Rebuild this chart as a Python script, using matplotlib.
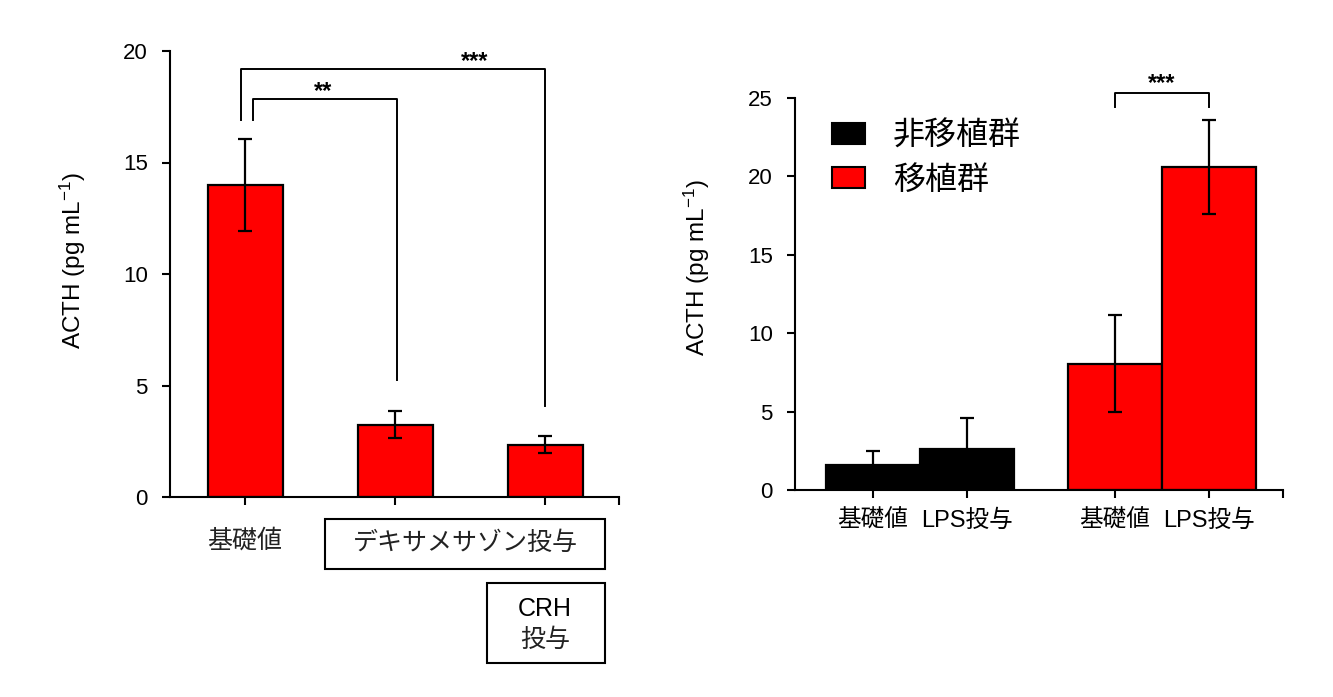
import numpy as np
import matplotlib
matplotlib.use('Agg')
import matplotlib.pyplot as plt
from matplotlib.patches import Rectangle, Patch

plt.rcParams['font.family'] = ['Liberation Sans', 'Noto Sans CJK JP']
plt.rcParams['mathtext.default'] = 'regular'

# left panel data
left_means = [14.0, 3.25, 2.35]
left_errs = [2.05, 0.62, 0.37]
left_first_label = '基礎値'
dex_label = 'デキサメサゾン投与'
crh_label = ['CRH', '投与']

# right panel data
groups = ['非移植群', '移植群']
group_colors = ['black', '#ff0000']
conditions = ['基礎値', 'LPS投与']
right_means = [[1.6, 2.6], [8.05, 20.6]]
right_errs = [[0.9, 2.0], [3.1, 3.0]]

ylabel = 'ACTH (pg mL$^{-1}$)'

W, H = 1333, 697
fig = plt.figure(figsize=(W / 100, H / 100), dpi=100)


def style_axis(ax):
    for s in ['top', 'right']:
        ax.spines[s].set_visible(False)
    for s in ['left', 'bottom']:
        ax.spines[s].set_linewidth(1.5)
    ax.tick_params(axis='both', direction='out', width=1.5, length=6,
                   labelsize=16, pad=10)


#----- left panel -----
ax1 = fig.add_axes([170 / W, 1 - 497 / H, 449 / W, 446 / H])
x1 = np.arange(len(left_means))
ax1.bar(x1, left_means, width=0.5, color='#ff0000', edgecolor='black',
        linewidth=1.6, zorder=2)
ax1.errorbar(x1, left_means, yerr=left_errs, fmt='none', ecolor='black',
             elinewidth=1.6, capsize=5, capthick=1.6, zorder=3)
ax1.set_ylim(0, 20)
ax1.set_xlim(-0.5, 2.493)
ax1.set_yticks([0, 5, 10, 15, 20])
ax1.set_xticks(list(x1) + [2.493])
ax1.set_xticklabels([])
style_axis(ax1)

# significance brackets
def bracket(ax, xa, xb, y, ya, yb, txt, tx, ty, fs=17):
    ax.plot([xa, xa, xb, xb], [ya, y, y, yb], color='black', lw=1.4,
            clip_on=False, zorder=4)
    ax.text(tx, ty, txt, ha='center', va='center', fontsize=fs,
            fontweight='bold')

bracket(ax1, -0.03, 2.0, 19.2, 16.9, 4.1, '***', 1.53, 19.55)
bracket(ax1, 0.05, 1.01, 17.85, 16.9, 5.25, '**', 0.52, 18.2)

# labels under left panel
tr = ax1.get_xaxis_transform()
ax1.text(0, -0.098, left_first_label, transform=tr, ha='center', va='center',
         fontsize=18, color='#222222')
ax1.add_patch(Rectangle((1 - 0.467, -0.161), 1.867, 0.112, transform=tr,
                        fill=False, edgecolor='black', lw=1.5, clip_on=False))
ax1.text(1.467, -0.104, dex_label, transform=tr, ha='center', va='center',
         fontsize=18, color='#222222')
ax1.add_patch(Rectangle((1.613, -0.372), 0.787, 0.18, transform=tr,
                        fill=False, edgecolor='black', lw=1.5, clip_on=False))
ax1.text(2.0, -0.252, crh_label[0], transform=tr, ha='center', va='center',
         fontsize=18)
ax1.text(2.0, -0.32, crh_label[1], transform=tr, ha='center', va='center',
         fontsize=18, color='#222222')

fig.text(73 / W, 1 - 261 / H, ylabel, rotation=90, ha='center', va='center',
         fontsize=17.5)

#----- right panel -----
ax2 = fig.add_axes([795 / W, 1 - 490 / H, 488 / W, 392 / H])
gap = 2.574
for g, (name, col) in enumerate(zip(groups, group_colors)):
    xs = g * gap + np.array([-0.5, 0.5])
    ax2.bar(xs, right_means[g], width=1.0, color=col, edgecolor='black',
            linewidth=1.6, label=name, zorder=2)
    ax2.errorbar(xs, right_means[g], yerr=right_errs[g], fmt='none',
                 ecolor='black', elinewidth=1.6, capsize=5, capthick=1.6,
                 zorder=3)
ax2.set_ylim(0, 25)
ax2.set_xlim(-0.5 - (920 - 795) / 94 + 0.5, gap + 0.5 + (1283 - 1209) / 94)
xt = [-0.5, 0.5, gap - 0.5, gap + 0.5]
ax2.set_xticks(xt + [ax2.get_xlim()[1]])
ax2.set_xticklabels(conditions * 2 + [''])
ax2.set_yticks([0, 5, 10, 15, 20, 25])
style_axis(ax2)
ax2.tick_params(axis='x', labelsize=17, pad=8)

bracket(ax2, gap - 0.5, gap + 0.5, 25.3, 24.4, 24.4, '***', gap, 25.95)

fig.text(697 / W, 1 - 268 / H, ylabel, rotation=90, ha='center', va='center',
         fontsize=17.5)

handles = [Patch(facecolor=c, edgecolor='black', lw=1.5) for c in group_colors]
ax2.legend(handles, groups, loc='upper left', bbox_to_anchor=(0.075, 0.94),
           frameon=False, fontsize=23, handlelength=1.06, handleheight=0.63,
           handletextpad=0.85, labelspacing=0.45, borderpad=0,
           borderaxespad=0)

fig.savefig('out.png', dpi=100)
